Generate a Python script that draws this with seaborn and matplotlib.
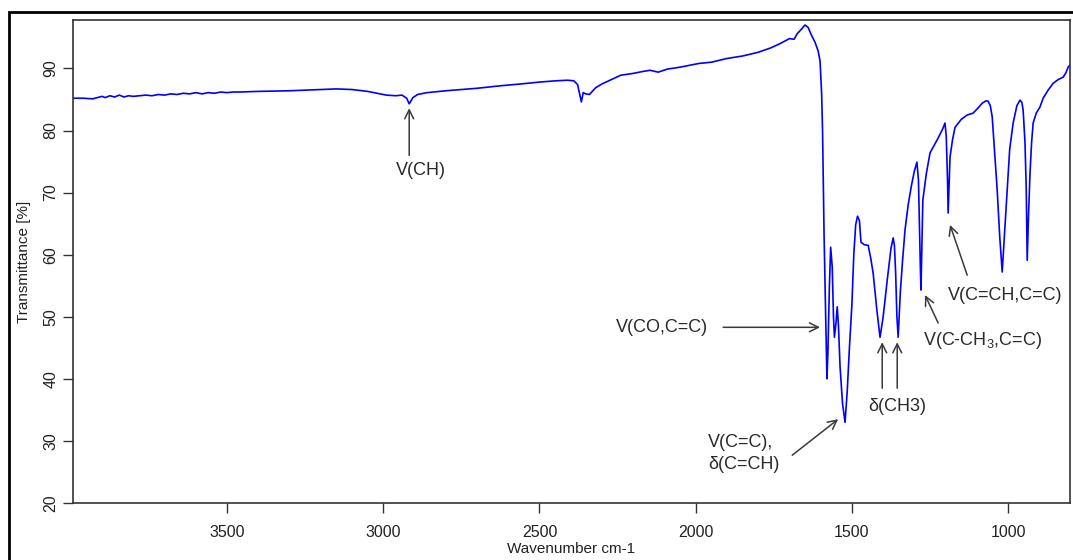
import matplotlib
matplotlib.use("Agg")
import matplotlib.pyplot as plt
from matplotlib.patches import Rectangle
import seaborn as sns
import pandas as pd

# ---- data ----
wavenumber = [3993, 3960, 3930, 3915, 3900, 3890, 3875, 3860, 3845, 3830, 3815, 3800,
              3780, 3760, 3740, 3720, 3700, 3680, 3660, 3640, 3620, 3600, 3580, 3560,
              3540, 3520, 3500, 3480, 3460, 3400, 3300, 3200, 3150, 3100, 3050, 3020,
              2990, 2960, 2940, 2925, 2917, 2905, 2890, 2860, 2800, 2700, 2626, 2560,
              2500, 2450, 2410, 2390, 2378, 2366, 2360, 2352, 2340, 2320, 2300, 2270,
              2240, 2200, 2170, 2146, 2120, 2090, 2050, 2010, 1990, 1950, 1900, 1850,
              1800, 1760, 1730, 1700, 1685, 1675, 1660, 1650, 1640, 1630, 1618, 1608,
              1602, 1597, 1594, 1591, 1589, 1586, 1583, 1580, 1577, 1572, 1568, 1563,
              1559, 1556, 1551, 1547, 1543, 1538, 1530, 1522, 1515, 1508, 1500, 1494,
              1488, 1482, 1476, 1471, 1460, 1448, 1440, 1432, 1420, 1410, 1400, 1387,
              1375, 1368, 1364, 1360, 1356, 1352, 1345, 1338, 1330, 1320, 1310, 1300,
              1292, 1287, 1284, 1281, 1279, 1276, 1273, 1262, 1250, 1227, 1210, 1202,
              1198, 1194, 1192, 1189, 1186, 1178, 1170, 1150, 1131, 1112, 1095, 1083,
              1070, 1064, 1057, 1051, 1044, 1035, 1027, 1019, 1012, 1003, 995, 984,
              972, 962, 956, 952, 946, 942, 939, 935, 930, 925, 920, 910,
              898, 888, 872, 856, 840, 824, 815, 808, 803]
transmittance = [85.2, 85.2, 85.1, 85.3, 85.5, 85.3, 85.6, 85.4, 85.7, 85.4, 85.6, 85.5,
                 85.6, 85.7, 85.6, 85.8, 85.7, 85.9, 85.8, 86.0, 85.9, 86.1, 85.9, 86.1,
                 86.0, 86.2, 86.1, 86.2, 86.2, 86.3, 86.4, 86.6, 86.7, 86.6, 86.3, 86.0,
                 85.7, 85.6, 85.7, 85.2, 84.3, 85.3, 85.8, 86.1, 86.4, 86.8, 87.2, 87.5,
                 87.8, 88.0, 88.1, 88.0, 87.4, 84.6, 86.1, 85.9, 85.8, 86.9, 87.5, 88.2,
                 88.9, 89.2, 89.5, 89.7, 89.4, 89.9, 90.2, 90.6, 90.8, 91.0, 91.6, 92.0,
                 92.6, 93.3, 94.0, 94.8, 94.7, 95.6, 96.4, 97.0, 96.6, 95.4, 94.2, 92.8,
                 91.2, 86.0, 80.0, 70.0, 62.8, 55.0, 47.0, 40.0, 44.0, 55.0, 61.2, 58.0,
                 50.0, 46.7, 49.0, 51.6, 48.5, 42.0, 36.0, 33.0, 38.0, 45.0, 52.0, 60.0,
                 64.8, 66.2, 65.5, 62.0, 61.6, 61.5, 59.5, 57.0, 51.0, 46.7, 50.0, 55.9,
                 61.0, 62.7, 61.5, 57.0, 50.0, 46.7, 54.0, 59.0, 64.0, 68.0, 71.0, 73.5,
                 74.9, 72.0, 65.0, 58.0, 54.3, 62.0, 68.8, 73.0, 76.4, 78.5, 80.2, 81.2,
                 79.0, 72.0, 66.7, 71.0, 75.7, 78.5, 80.5, 81.8, 82.5, 82.8, 83.7, 84.4,
                 84.8, 84.7, 84.0, 82.2, 77.0, 70.4, 63.0, 57.2, 63.0, 70.4, 77.0, 81.2,
                 84.0, 84.9, 84.5, 83.3, 78.0, 70.4, 59.1, 66.0, 73.1, 78.0, 81.2, 82.8,
                 83.8, 85.2, 86.5, 87.6, 88.2, 88.6, 89.3, 90.2, 90.5]

x_ticks = [3500, 3000, 2500, 2000, 1500, 1000]
y_ticks = [20, 30, 40, 50, 60, 70, 80, 90]

ann_labels = ["V(CH)", "V(CO,C=C)", "V(C=C),\nδ(C=CH)", "δ(CH3)",
              r"V(C-CH$_3$,C=C)", "V(C=CH,C=C)"]

df = pd.DataFrame({"Wavenumber": wavenumber, "Transmittance": transmittance})

sns.set_style("white")
plt.rcParams["font.family"] = ["Liberation Sans", "DejaVu Sans"]
plt.rcParams["mathtext.fontset"] = "custom"
plt.rcParams["mathtext.rm"] = "Liberation Sans"
plt.rcParams["mathtext.it"] = "Liberation Sans"

fig = plt.figure(figsize=(10.73, 5.6), dpi=100)
ax = fig.add_axes([73 / 1073, 57 / 560, (1070 - 73) / 1073, (503 - 20) / 560])

sns.lineplot(data=df, x="Wavenumber", y="Transmittance", ax=ax, color="#0000ff",
             lw=1.2, estimator=None, sort=False)

ax.set_xlim(3993, 802)
ax.set_ylim(20, 97.8)
ax.set_xticks(x_ticks)
ax.set_yticks(y_ticks)
ax.set_xlabel("Wavenumber cm-1", fontsize=11, color="#222222", labelpad=1)
ax.set_ylabel("Transmittance [%]", fontsize=11, color="#222222", labelpad=9)
for s in ax.spines.values():
    s.set_color("#333333")
    s.set_linewidth(1.2)
ax.tick_params(axis="both", direction="out", length=7, width=1, color="#333333",
               labelsize=11.5, labelcolor="#222222", bottom=True, left=True)
ax.tick_params(axis="x", pad=9)
for lab in ax.get_yticklabels():
    lab.set_rotation(90)
    lab.set_va("center")

tc = "#2a2a2a"
ac = "#3a3a3a"
ap = dict(arrowstyle="->", color=ac, lw=1.1, mutation_scale=16, shrinkA=0, shrinkB=0)
fs = 13

# V(CH)
ax.annotate("", xy=(2917, 83.6), xytext=(2917, 76.0), arrowprops=ap)
ax.text(2880, 73.6, ann_labels[0], fontsize=fs, color=tc, ha="center", va="center")
# V(CO,C=C)
ax.annotate("", xy=(1602, 48.3), xytext=(1912, 48.3), arrowprops=ap)
ax.text(1962, 48.3, ann_labels[1], fontsize=fs, color=tc, ha="right", va="center")
# V(C=C), δ(C=CH)
ax.annotate("", xy=(1544, 33.5), xytext=(1691, 27.7), arrowprops=ap)
ax.text(1960, 28.0, ann_labels[2], fontsize=fs, color=tc, ha="left", va="center",
        linespacing=1.35)
# δ(CH3)
ax.annotate("", xy=(1403, 45.9), xytext=(1403, 38.5), arrowprops=ap)
ax.annotate("", xy=(1355, 45.9), xytext=(1355, 38.5), arrowprops=ap)
ax.text(1355, 35.6, ann_labels[3], fontsize=fs, color=tc, ha="center", va="center")
# V(C-CH3,C=C)
ax.annotate("", xy=(1266, 53.5), xytext=(1224, 49.0), arrowprops=ap)
ax.text(1271, 46.2, ann_labels[4], fontsize=fs, color=tc, ha="left", va="center")
# V(C=CH,C=C)
ax.annotate("", xy=(1186, 64.8), xytext=(1131, 56.7), arrowprops=ap)
ax.text(1194, 53.5, ann_labels[5], fontsize=fs, color=tc, ha="left", va="center")

# outer frame
fig.add_artist(Rectangle((9 / 1073, -0.1), 1.2, 1.1 - 12 / 560, transform=fig.transFigure,
                         fill=False, lw=2, ec="black"))

fig.savefig("out.png", dpi=100)
